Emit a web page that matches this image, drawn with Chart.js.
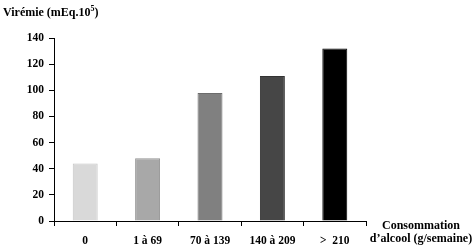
<!DOCTYPE html>
<html>
<head>
<meta charset="utf-8">
<script src="https://cdn.jsdelivr.net/npm/chart.js@4"></script>
<style>
  body { margin: 0; background: #fff; }
</style>
</head>
<body>
<canvas id="grafico" width="473" height="246"></canvas>
<script>
const categorias = ["0", "1 à 69", "70 à 139", "140 à 209", ">  210"];
const viremie = [44, 48, 98, 111, 132];
const colores = ["#d9d9d9", "#a8a8a8", "#808080", "#464646", "#000000"];
const bordes = ["#c4c4c4", "#939393", "#6c6c6c", "#333333", "#000000"];

const fuente = "'Liberation Serif', 'DejaVu Serif', serif";

// titulos dibujados a mano (eje y arriba a la izquierda, eje x a la derecha)
const titulos = {
    id: "titulos",
    afterDraw(chart) {
        const ctx = chart.ctx;
        ctx.save();
        ctx.fillStyle = "#000";
        ctx.font = "bold 12px " + fuente;
        ctx.textBaseline = "alphabetic";
        ctx.textAlign = "left";
        const t = "Virémie (mEq.10";
        ctx.fillText(t, 3, 16);
        const w = ctx.measureText(t).width;
        ctx.font = "bold 8px " + fuente;
        ctx.fillText("5", 3 + w, 11);
        const w2 = ctx.measureText("5").width;
        ctx.font = "bold 12px " + fuente;
        ctx.fillText(")", 3 + w + w2, 16);

        ctx.textAlign = "center";
        ctx.fillText("Consommation", 421, 229);
        ctx.fillText("d\u2019alcool (g/semaine)", 421, 242);
        ctx.restore();
    }
};

new Chart(document.getElementById("grafico"), {
    type: "bar",
    data: {
        labels: categorias,
        datasets: [{
            data: viremie,
            backgroundColor: colores,
            borderColor: bordes,
            borderWidth: 1,
            barPercentage: 0.4,
            categoryPercentage: 1.0
        }]
    },
    options: {
        responsive: false,
        animation: false,
        layout: { padding: { top: 38, right: 107, left: 0, bottom: 0 } },
        plugins: {
            legend: { display: false },
            tooltip: { enabled: false }
        },
        scales: {
            x: {
                offset: true,
                grid: { drawOnChartArea: false, drawTicks: true, tickLength: 5, color: "#000", offset: true },
                border: { display: true, color: "#000", width: 1 },
                ticks: { color: "#000", font: { family: fuente, size: 11.5, weight: "bold" }, padding: 8, maxRotation: 0 },
                afterFit(scale) { scale.height = 25; }
            },
            y: {
                min: 0,
                max: 140,
                grid: { drawOnChartArea: false, drawTicks: true, tickLength: 5, color: "#000" },
                border: { display: true, color: "#000", width: 1 },
                ticks: { stepSize: 20, color: "#000", font: { family: fuente, size: 11.5, weight: "bold" }, padding: 5 },
                afterFit(scale) { scale.width = 54; }
            }
        }
    },
    plugins: [titulos]
});
</script>
</body>
</html>
